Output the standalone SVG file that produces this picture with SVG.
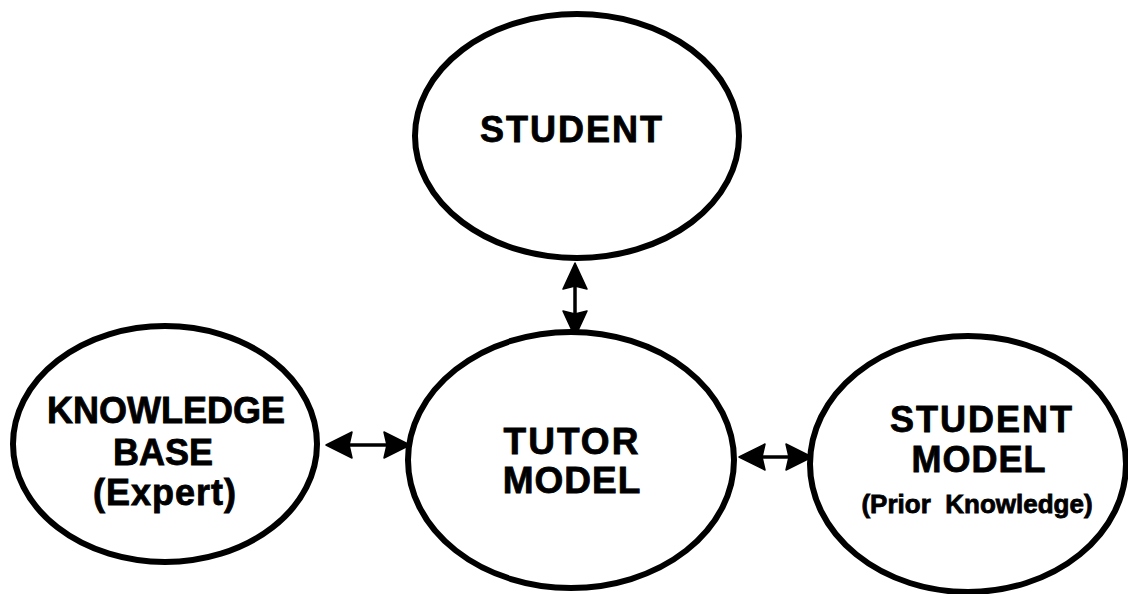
<svg xmlns="http://www.w3.org/2000/svg" width="1128" height="594" viewBox="0 0 1128 594">
<style>
.node{fill:#fff;stroke:#000;stroke-width:6}
.t{font-family:"Liberation Sans",Arial,sans-serif;font-weight:bold;fill:#000;stroke:#000;stroke-width:0.8;text-anchor:middle}
.conn{stroke:#000;stroke-width:3.5;fill:none}
.head{fill:#000;stroke:#000;stroke-width:1.5;stroke-linejoin:round}
</style>
<rect width="1128" height="594" fill="#fff"/>
<g id="connectors">
<line class="conn" x1="575" y1="280" x2="575" y2="320"/>
<polygon class="head" points="575,263 587,289 575,286 563,289"/>
<polygon class="head" points="575,337 587,311 575,314 563,311"/>
<line class="conn" x1="345" y1="445" x2="392" y2="445"/>
<polygon class="head" points="326,445 352,432 349,445 352,458"/>
<polygon class="head" points="410,445 384,432 387,445 384,458"/>
<line class="conn" x1="758" y1="457" x2="794" y2="457"/>
<polygon class="head" points="739,457 765,444 762,457 765,470"/>
<polygon class="head" points="812,457 786,444 789,457 786,470"/>
</g>
<g id="student">
<ellipse class="node" cx="577" cy="136" rx="162" ry="122"/>
<text class="t" x="572" y="142" font-size="36" letter-spacing="2">STUDENT</text>
</g>
<g id="tutor-model">
<ellipse class="node" cx="571" cy="460" rx="163" ry="128"/>
<text class="t" x="572" y="454" font-size="37" letter-spacing="2">TUTOR</text>
<text class="t" x="572" y="493" font-size="37" letter-spacing="1">MODEL</text>
</g>
<g id="knowledge-base">
<ellipse class="node" cx="165" cy="444" rx="152" ry="118"/>
<text class="t" x="166" y="423" font-size="36">KNOWLEDGE</text>
<text class="t" x="163" y="465" font-size="36">BASE</text>
<text class="t" x="165" y="505" font-size="36" letter-spacing="1">(Expert)</text>
</g>
<g id="student-model">
<ellipse class="node" cx="968" cy="464" rx="158" ry="128"/>
<text class="t" x="982" y="432" font-size="36" letter-spacing="2">STUDENT</text>
<text class="t" x="979" y="472" font-size="36" letter-spacing="1">MODEL</text>
<text class="t" x="977" y="513" font-size="26" xml:space="preserve">(Prior  Knowledge)</text>
</g>
</svg>
